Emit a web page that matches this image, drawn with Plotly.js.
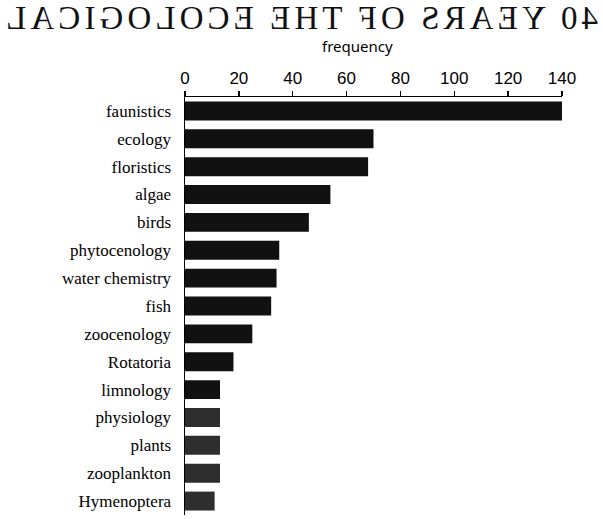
<!DOCTYPE html>
<html>
<head>
<meta charset="utf-8">
<script src="https://cdn.plot.ly/plotly-3.0.1.min.js"></script>
<style>
html,body{margin:0;padding:0;background:#fff;}
#wrap{position:relative;width:603px;height:519px;overflow:hidden;}
#chart{width:603px;height:519px;}
#bleed{position:absolute;left:2px;top:0px;font-family:"Liberation Serif",serif;font-size:33px;font-weight:normal;color:#111;transform-origin:center center;white-space:nowrap;pointer-events:none;line-height:36px;}
</style>
</head>
<body>
<div id="wrap">
<div id="chart"></div>
<div id="bleed">40 YEARS OF THE ECOLOGICAL</div>
</div>
<script>
const categories = ["faunistics","ecology","floristics","algae","birds","phytocenology","water chemistry","fish","zoocenology","Rotatoria","limnology","physiology","plants","zooplankton","Hymenoptera"];
const frequency = [140,70,68,54,46,35,34,32,25,18,13,13,13,13,11];
const barColors = ["#111","#111","#111","#111","#111","#111","#111","#111","#111","#111","#111","#2e2e2e","#2e2e2e","#2e2e2e","#2e2e2e"];
const xTicks = [0,20,40,60,80,100,120,140];

const trace = {
  type: "bar",
  orientation: "h",
  y: categories,
  x: frequency,
  marker: {color: barColors, line: {width: 0}},
  hoverinfo: "x+y"
};

const layout = {
  width: 603, height: 519,
  margin: {l: 185, r: 41, t: 97, b: 4},
  paper_bgcolor: "#fff", plot_bgcolor: "#fff",
  showlegend: false,
  bargap: 0.32,
  font: {family: "Liberation Serif, serif", color: "#000"},
  xaxis: {
    side: "top",
    range: [0, 140],
    tickvals: xTicks,
    ticktext: xTicks.map(String),
    ticks: "outside", ticklen: 5, tickwidth: 1.5, tickcolor: "#000",
    showline: true, linecolor: "#000", linewidth: 1.5,
    showgrid: false, zeroline: false,
    tickfont: {family: "Liberation Sans Narrow, Liberation Sans, sans-serif", size: 17, color: "#000"},
    fixedrange: true
  },
  yaxis: {
    type: "category",
    autorange: "reversed",
    showline: true, linecolor: "#000", linewidth: 1.5,
    ticks: "", ticklabelstandoff: 9,
    showgrid: false, zeroline: false,
    tickfont: {family: "Liberation Serif, serif", size: 17, color: "#000"},
    fixedrange: true
  },
  annotations: [{
    text: "frequency", xref: "paper", yref: "paper",
    x: (357 - 185) / 377, y: 1 + (97 - 46) / 418,
    xanchor: "center", yanchor: "middle", showarrow: false,
    font: {family: "Noto Sans, sans-serif", size: 15, color: "#000"}
  }]
};

Plotly.newPlot("chart", [trace], layout, {displayModeBar: false, staticPlot: true}).then(function(){
  const el = document.getElementById("bleed");
  const target = 596;
  const n = el.textContent.length;
  const w = el.getBoundingClientRect().width;
  el.style.letterSpacing = ((target - w) / n) + "px";
  el.style.transform = "scaleX(-1)";
});
</script>
</body>
</html>
